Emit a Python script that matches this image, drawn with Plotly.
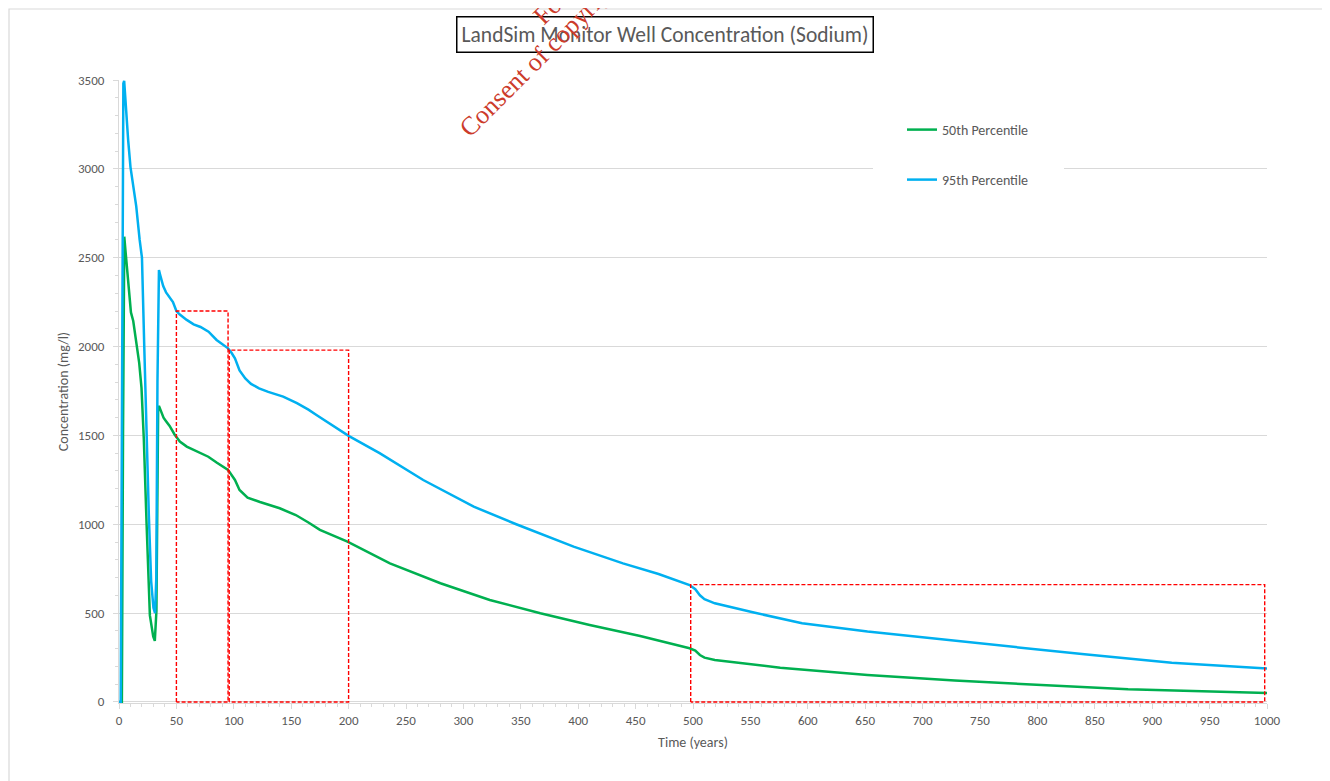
import plotly.graph_objects as go

# ---------------- data ----------------
t95 = [0, 1.5, 2.5, 3.8, 4.5, 5.5, 6.5, 8, 10, 12, 15, 18, 20, 22, 24, 26, 28, 30, 31.4, 32.5, 33.5,
       34.8, 36, 38.5, 41, 44, 47, 50, 53, 59, 65, 71, 78, 85, 90, 95, 98, 101, 105, 110, 115, 122,
       130, 143, 155, 165, 172, 185, 200, 227, 265, 309, 346, 396, 439, 470, 497, 502, 506, 510,
       519, 553, 595, 652, 701, 765, 841, 917, 1000]
c95 = [0, 0, 1500, 3480, 3495, 3400, 3250, 3160, 3010, 2920, 2790, 2600, 2500, 2000, 1480, 1050,
       680, 530, 500, 700, 1800, 2430, 2400, 2340, 2305, 2275, 2250, 2200, 2180, 2150, 2125, 2110,
       2084, 2037, 2015, 1990, 1965, 1934, 1865, 1820, 1790, 1765, 1745, 1718, 1681, 1645, 1615,
       1560, 1497, 1400, 1249, 1099, 1000, 874, 780, 720, 658, 634, 600, 578, 555, 503, 443, 396,
       362, 317, 268, 221, 188]

t50 = [0, 2.5, 3.5, 4.6, 5.5, 6.6, 8.5, 10.4, 12.4, 15.3, 17.6, 19.6, 21.6, 24, 26.9, 29.8, 31.2,
       32.6, 34.1, 34.8, 36.8, 38.8, 41, 44.1, 48.4, 53, 59, 67.7, 77.8, 85, 95, 101, 105, 112,
       122.8, 140, 154, 165, 175, 199, 236, 280, 323, 367, 410, 454, 497, 502, 506, 510, 519, 576,
       652, 728, 803, 879, 1000]
c50 = [0, 0, 1500, 2618, 2550, 2476, 2330, 2192, 2144, 2003, 1908, 1767, 1481, 1007, 487, 368, 344,
       512, 1649, 1666, 1637, 1600, 1580, 1553, 1505, 1465, 1437, 1409, 1380, 1347, 1306, 1249,
       1193, 1150, 1125, 1090, 1052, 1010, 968, 902, 780, 668, 574, 499, 433, 371, 302, 289, 264,
       249, 236, 193, 152, 120, 96, 71, 50]

series_names = ["50th Percentile", "95th Percentile"]

# highlighted periods (red dashed boxes)
box_x0 = [50, 96, 498]
box_x1 = [95, 200, 998]
box_top = [2200, 1980, 660]

x_ticks = list(range(0, 1001, 50))
y_ticks = list(range(0, 3501, 500))

title_text = "LandSim Monitor Well Concentration (Sodium)"
x_title = "Time (years)"
y_title = "Concentration (mg/l)"
wm_line1 = "Consent of copyright owner required for any other use."
wm_line2 = "For inspection purposes only."

# ---------------- layout helpers (page pixel coordinates) ----------------
PAGE_OFF = 8                      # browser body margin
W, H = 1330 - PAGE_OFF, 781 - PAGE_OFF
PL, PR, PT, PB = 119, 1267, 80, 703   # plot area in page pixels
L, R, T, B = PL - PAGE_OFF, 1330 - PR, PT - PAGE_OFF, 781 - PB
PW, PH = PR - PL, PB - PT


def px(xp):
    return (xp - PL) / PW


def py(yp):
    return (PB - yp) / PH


FONT = "Carlito, Lato, sans-serif"
GREY = "#595959"
GRID = "#d9d9d9"

fig = go.Figure()
fig.add_trace(go.Scatter(x=t50, y=c50, mode="lines", name=series_names[0],
                         line=dict(color="#00b050", width=2.5), legend="legend"))
fig.add_trace(go.Scatter(x=t95, y=c95, mode="lines", name=series_names[1],
                         line=dict(color="#00b0f0", width=2.5), legend="legend2"))
for a, b, c in zip(box_x0, box_x1, box_top):
    fig.add_trace(go.Scatter(x=[a, a, b, b, a], y=[0, c, c, 0, 0], mode="lines", showlegend=False,
                             hoverinfo="skip", cliponaxis=False,
                             line=dict(color="#ff0000", width=1.4, dash="4px,2px")))

shapes = []
# outer chart border
shapes.append(dict(type="rect", xref="paper", yref="paper", x0=px(9), x1=px(1324), y0=py(800), y1=py(9),
                   line=dict(color=GRID, width=1.2), fillcolor="rgba(0,0,0,0)", layer="below"))
# white patch behind legend (hides gridline)
shapes.append(dict(type="rect", xref="paper", yref="paper", x0=px(873), x1=px(1064), y0=py(205), y1=py(100),
                   line=dict(width=0), fillcolor="white", layer="above"))

annotations = [
    dict(text=title_text, xref="paper", yref="paper", x=px(664.5), y=py(35), xanchor="center", yanchor="middle",
         showarrow=False, font=dict(family=FONT, size=21.5, color=GREY), bordercolor="black", borderwidth=1.5,
         borderpad=4, bgcolor="white"),
    dict(text=wm_line1, xref="paper", yref="paper", x=px(451), y=py(145), xanchor="left", yanchor="bottom",
         textangle=-45, showarrow=False, font=dict(family="Liberation Serif", size=26, color="#cc3b2b")),
    dict(text=wm_line2, xref="paper", yref="paper", x=px(525), y=py(33), xanchor="left", yanchor="bottom",
         textangle=-45, showarrow=False, font=dict(family="Liberation Serif", size=26, color="#cc3b2b")),
]

axis_common = dict(showline=True, linecolor=GRID, linewidth=1, ticks="outside", tickcolor=GRID, ticklen=5,
                   tickfont=dict(family=FONT, size=13, color=GREY), zeroline=False, layer="below traces")

fig.update_layout(
    width=W, height=H, autosize=False,
    margin=dict(l=L, r=R, t=T, b=B),
    paper_bgcolor="white", plot_bgcolor="white",
    font=dict(family=FONT, color=GREY),
    xaxis=dict(range=[0, 1000], tickvals=x_ticks, showgrid=False,
               title=dict(text=x_title, font=dict(family=FONT, size=14, color=GREY), standoff=10),
               minor=dict(dtick=10, ticks="outside", ticklen=3, tickcolor=GRID, showgrid=False),
               **axis_common),
    yaxis=dict(range=[-6, 3500], tickvals=y_ticks, showgrid=True, gridcolor=GRID, gridwidth=1,
               title=dict(text=y_title, font=dict(family=FONT, size=14, color=GREY), standoff=6),
               ticklabelstandoff=6,
               minor=dict(dtick=100, ticks="outside", ticklen=3, tickcolor=GRID, showgrid=False),
               **axis_common),
    legend=dict(x=px(902), y=py(130), xanchor="left", yanchor="middle", bgcolor="rgba(0,0,0,0)",
                font=dict(family=FONT, size=14, color=GREY)),
    legend2=dict(x=px(902), y=py(180), xanchor="left", yanchor="middle", bgcolor="rgba(0,0,0,0)",
                 font=dict(family=FONT, size=14, color=GREY)),
    shapes=shapes,
    annotations=annotations,
    showlegend=True,
)

fig.write_html("out.html")
